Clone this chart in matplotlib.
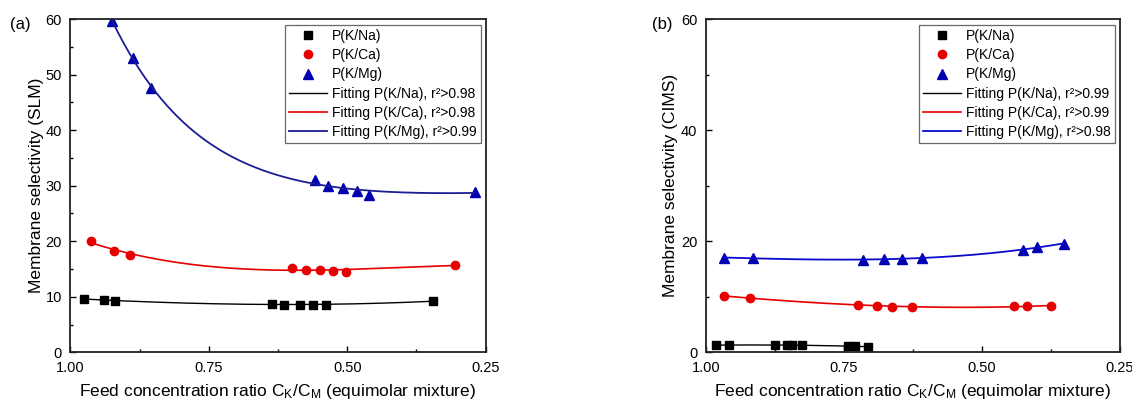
import numpy as np
import matplotlib.pyplot as plt

plt.rcParams['font.family'] = ['Liberation Sans', 'DejaVu Sans']
plt.rcParams['mathtext.fontset'] = 'custom'
plt.rcParams['mathtext.rm'] = 'Liberation Sans'
plt.rcParams['mathtext.it'] = 'Liberation Sans:italic'

# panel (a): SLM
a_x_na = [0.975, 0.940, 0.919, 0.635, 0.614, 0.585, 0.562, 0.538, 0.346]
a_y_na = [9.6, 9.5, 9.2, 8.7, 8.6, 8.6, 8.6, 8.6, 9.2]
a_x_ca = [0.963, 0.922, 0.892, 0.599, 0.574, 0.549, 0.526, 0.503, 0.305]
a_y_ca = [20.0, 18.3, 17.6, 15.2, 14.9, 14.8, 14.7, 14.5, 15.7]
a_x_mg = [0.924, 0.886, 0.854, 0.558, 0.535, 0.508, 0.483, 0.460, 0.270]
a_y_mg = [59.6, 52.9, 47.5, 31.1, 30.0, 29.6, 29.0, 28.4, 28.9]
a_r2 = ['0.98', '0.98', '0.99']

# panel (b): CIMS
b_x_na = [0.982, 0.958, 0.874, 0.853, 0.843, 0.826, 0.742, 0.729, 0.706]
b_y_na = [1.3, 1.3, 1.3, 1.3, 1.3, 1.25, 1.1, 1.1, 1.0]
b_x_ca = [0.967, 0.919, 0.725, 0.690, 0.662, 0.626, 0.441, 0.419, 0.375]
b_y_ca = [10.1, 9.8, 8.6, 8.4, 8.2, 8.15, 8.3, 8.3, 8.35]
b_x_mg = [0.966, 0.915, 0.716, 0.678, 0.645, 0.608, 0.426, 0.401, 0.352]
b_y_mg = [17.0, 17.0, 16.7, 16.8, 16.8, 16.9, 18.5, 19.0, 19.5]
b_r2 = ['0.99', '0.99', '0.98']

RED = '#e60000'
BLUE_PT = '#0000b0'


def poly_fit(x, y, deg):
    x = np.asarray(x); y = np.asarray(y)
    c = np.polyfit(x, y, deg)
    xs = np.linspace(x.min(), x.max(), 200)
    return xs, np.polyval(c, xs)


def exp_fit(x, y):
    # y = c + b*x + A*exp(k*x), k by grid search
    x = np.asarray(x); y = np.asarray(y)
    best = None
    for k in np.linspace(1, 40, 400):
        M = np.column_stack([np.ones_like(x), x, np.exp(k * x)])
        coef, res, *_ = np.linalg.lstsq(M, y, rcond=None)
        err = np.sum((M @ coef - y) ** 2)
        if best is None or err < best[0]:
            best = (err, k, coef)
    _, k, coef = best
    xs = np.linspace(x.min(), x.max(), 200)
    return xs, coef[0] + coef[1] * xs + coef[2] * np.exp(k * xs)


def draw_panel(ax, data, fits, r2, blue_line, ylabel, yticks, yminor):
    (xn, yn), (xc, yc), (xm, ym) = data
    ax.plot(xn, yn, 's', color='black', ms=5.2, ls='none', label='P(K/Na)')
    ax.plot(xc, yc, 'o', color=RED, ms=6, ls='none', label='P(K/Ca)')
    ax.plot(xm, ym, '^', color=BLUE_PT, ms=6.5, ls='none', label='P(K/Mg)')
    ax.plot(*fits[0], color='black', lw=1.0, label='Fitting P(K/Na), r\u00b2>' + r2[0])
    ax.plot(*fits[1], color=RED, lw=1.2, label='Fitting P(K/Ca), r\u00b2>' + r2[1])
    ax.plot(*fits[2], color=blue_line, lw=1.3, label='Fitting P(K/Mg), r\u00b2>' + r2[2])

    ax.set_xlim(1.0, 0.25)
    ax.set_ylim(0, 60)
    ax.set_xticks([1.0, 0.75, 0.5, 0.25])
    ax.set_xticklabels(['1.00', '0.75', '0.50', '0.25'])
    ax.set_xticks([0.875, 0.625, 0.375], minor=True)
    ax.set_yticks(yticks)
    ax.set_yticks(yminor, minor=True)
    ax.tick_params(which='both', direction='in', labelsize=10.5, width=1.0,
                   top=False, right=False)
    ax.tick_params(which='major', length=4.5, pad=6)
    ax.tick_params(which='minor', length=2.5)
    for s in ax.spines.values():
        s.set_linewidth(1.3)
        s.set_color('#222222')

    ax.set_ylabel(ylabel, fontsize=12.5)
    ax.set_xlabel('Feed concentration ratio C$_\\mathrm{K}$/C$_\\mathrm{M}$ (equimolar mixture)',
                  fontsize=12.5)
    ax.xaxis.set_label_coords(0.5, -0.09)
    ax.xaxis.label.set_va('top')

    leg = ax.legend(loc='upper right', bbox_to_anchor=(0.988, 0.983), borderaxespad=0,
                    fontsize=10, frameon=True, fancybox=False, handlelength=2.75,
                    handletextpad=0.35, labelspacing=0.38, borderpad=0.3)
    leg.get_frame().set_edgecolor('#444444')
    leg.get_frame().set_linewidth(0.9)


fig = plt.figure(figsize=(11.32, 4.01), dpi=100)
ax1 = fig.add_axes([70.3 / 1132, 48.7 / 401, 415.4 / 1132, 333.3 / 401])
ax2 = fig.add_axes([705.7 / 1132, 48.7 / 401, 414.3 / 1132, 333.3 / 401])

fits_a = [poly_fit(a_x_na, a_y_na, 3), poly_fit(a_x_ca, a_y_ca, 3), exp_fit(a_x_mg, a_y_mg)]
draw_panel(ax1, [(a_x_na, a_y_na), (a_x_ca, a_y_ca), (a_x_mg, a_y_mg)], fits_a, a_r2,
           '#1c1c94', 'Membrane selectivity (SLM)', [0, 10, 20, 30, 40, 50, 60],
           [5, 15, 25, 35, 45, 55])
ax1.yaxis.set_label_coords(-0.063, 0.5)

fits_b = [poly_fit(b_x_na, b_y_na, 2), poly_fit(b_x_ca, b_y_ca, 3), poly_fit(b_x_mg, b_y_mg, 3)]
draw_panel(ax2, [(b_x_na, b_y_na), (b_x_ca, b_y_ca), (b_x_mg, b_y_mg)], fits_b, b_r2,
           '#0a0acc', 'Membrane selectivity (CIMS)', [0, 20, 40, 60], [10, 30, 50])
ax2.yaxis.set_label_coords(-0.066, 0.5)

fig.text(10 / 1132, 1 - 25 / 401, '(a)', fontsize=12, ha='left', va='center')
fig.text(652 / 1132, 1 - 25 / 401, '(b)', fontsize=12, ha='left', va='center')

fig.savefig('out.png', dpi=100)
